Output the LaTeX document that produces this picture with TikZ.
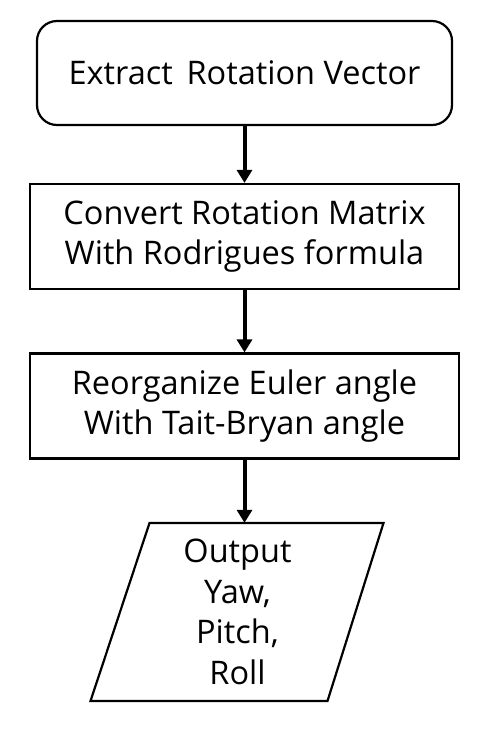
\documentclass[tikz,border=0pt]{standalone}
\usepackage{fontspec}
\setmainfont{Open Sans}
\usetikzlibrary{arrows.meta,calc}
\begin{document}
\begin{tikzpicture}[x=1pt,y=-1pt,
  every node/.style={font=\fontsize{32.5}{40.5}\selectfont, align=center, inner sep=0pt},
  boxstyle/.style={draw, line width=2.2pt, minimum width=429pt, minimum height=105pt},
  roundbox/.style={boxstyle, rounded corners=20pt, minimum width=415pt, minimum height=104pt},
  flow/.style={line width=4pt, -{Triangle[width=15pt,length=13pt]}}]
\useasboundingbox (0,0) rectangle (485,729);
\node[roundbox] (a) at (244.5,73) {Extract\, Rotation Vector};
\node[boxstyle] (b) at (244.5,236.5) {Convert Rotation Matrix\\With Rodrigues formula};
\node[boxstyle] (c) at (244.5,406) {Reorganize Euler angle\\With Tait-Bryan angle};
\node[minimum width=235pt, minimum height=178pt] (d) at (237.5,612) {Output\\Yaw,\\Pitch,\\Roll};
\draw[line width=2.2pt, line join=miter]
  ($(d.center)+(-88,-89)$) -- ($(d.center)+(146,-89)$) -- ($(d.center)+(90,89)$) -- ($(d.center)+(-147,89)$) -- cycle;
\draw[flow] (a.south) -- (b.north);
\draw[flow] (b.south) -- (c.north);
\draw[flow] (c.south) -- (c.south |- d.north);
\end{tikzpicture}
\end{document}
